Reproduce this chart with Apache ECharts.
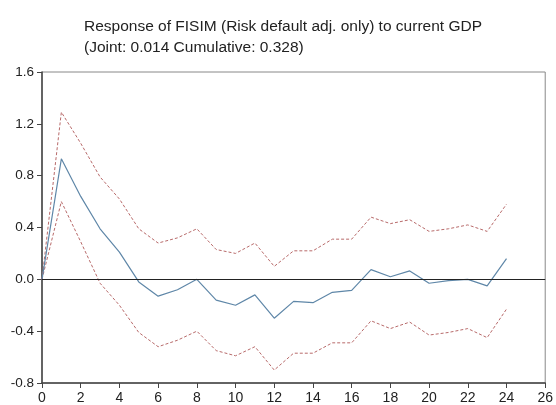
<!DOCTYPE html>
<html>
<head>
<meta charset="utf-8">
<script src="https://cdn.jsdelivr.net/npm/echarts@6/dist/echarts.min.js"></script>
<style>
  html, body { margin: 0; padding: 0; background: #fff; }
  #chart { width: 556px; height: 405px; }
</style>
</head>
<body>
<div id="chart"></div>
<script>
// periods 0..24
const periods = [0,1,2,3,4,5,6,7,8,9,10,11,12,13,14,15,16,17,18,19,20,21,22,23,24];
// impulse response (point estimate)
const response = [0, 0.93, 0.64, 0.39, 0.21, -0.02, -0.13, -0.08, 0.0, -0.16, -0.2, -0.12, -0.3, -0.17, -0.18, -0.1, -0.085, 0.075, 0.02, 0.065, -0.03, -0.01, 0.0, -0.05, 0.16];
// confidence bands
const upper = [0, 1.29, 1.05, 0.79, 0.62, 0.39, 0.28, 0.32, 0.39, 0.23, 0.2, 0.28, 0.1, 0.22, 0.22, 0.31, 0.31, 0.48, 0.43, 0.46, 0.37, 0.39, 0.42, 0.37, 0.58];
const lower = [0, 0.6, 0.29, -0.03, -0.2, -0.41, -0.52, -0.47, -0.4, -0.55, -0.59, -0.52, -0.7, -0.57, -0.57, -0.49, -0.49, -0.32, -0.38, -0.33, -0.43, -0.41, -0.38, -0.45, -0.23];

const pairs = arr => periods.map((p, i) => [p, arr[i]]);

const myChart = echarts.init(document.getElementById('chart'));
const font = 'Liberation Sans, Arial, sans-serif';

myChart.setOption({
  animation: false,
  title: {
    text: 'Response of FISIM (Risk default adj. only) to current GDP\n(Joint: 0.014 Cumulative: 0.328)',
    left: 79,
    top: 11,
    textStyle: { fontFamily: font, fontSize: 15.5, fontWeight: 'normal', color: '#222', lineHeight: 21 }
  },
  grid: {
    left: 42, right: 1, top: 72, bottom: 22,
    show: true, borderColor: '#888', borderWidth: 1, backgroundColor: '#fff'
  },
  xAxis: {
    type: 'value', min: 0, max: 26, interval: 2,
    axisLine: { show: true, onZero: false, lineStyle: { color: '#444', width: 1.5 } },
    axisTick: { show: true, inside: false, length: 5, lineStyle: { color: '#444' } },
    axisLabel: { fontFamily: font, fontSize: 14, color: '#222', margin: 8 },
    splitLine: { show: false }
  },
  yAxis: {
    type: 'value', min: -0.8, max: 1.6, interval: 0.4,
    axisLine: { show: true, onZero: false, lineStyle: { color: '#444', width: 1.5 } },
    axisTick: { show: true, inside: false, length: 5, lineStyle: { color: '#444' } },
    axisLabel: { fontFamily: font, fontSize: 13.5, color: '#222', margin: 8, formatter: v => v.toFixed(1) },
    splitLine: { show: false }
  },
  series: [
    {
      type: 'line', data: pairs(upper), symbol: 'none',
      lineStyle: { color: '#b86a6a', width: 1, type: [3, 2] }
    },
    {
      type: 'line', data: pairs(lower), symbol: 'none',
      lineStyle: { color: '#b86a6a', width: 1, type: [3, 2] }
    },
    {
      type: 'line', data: pairs(response), symbol: 'none',
      lineStyle: { color: '#5f87a8', width: 1.2 },
      z: 3,
      markLine: {
        silent: true, symbol: 'none', label: { show: false },
        lineStyle: { color: '#222', width: 1.2, type: 'solid' },
        data: [{ yAxis: 0 }]
      }
    }
  ]
});
</script>
</body>
</html>
